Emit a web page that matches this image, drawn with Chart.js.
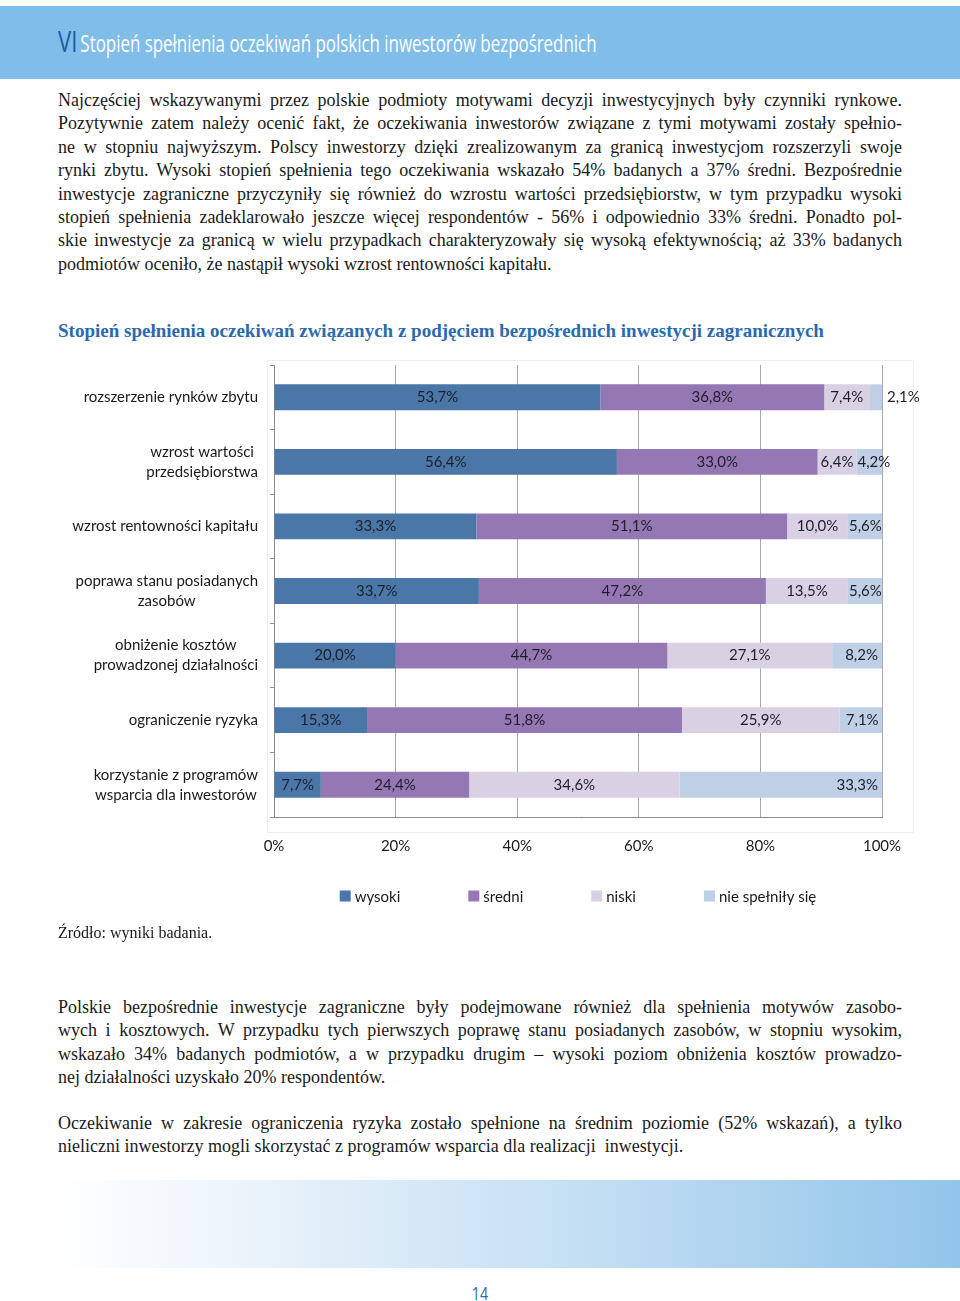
<!DOCTYPE html>
<html lang="pl">
<head>
<meta charset="utf-8">
<script src="https://cdn.jsdelivr.net/npm/chart.js@4.4.1/dist/chart.umd.min.js"></script>
<style>
  html, body { margin: 0; padding: 0; background: #fff; }
  #page { position: relative; width: 960px; height: 1301px; overflow: hidden; background: #fff; }
  .header { position: absolute; left: 0; top: 6px; width: 960px; height: 73px; background: #80bde9; }
  .header .t { position: absolute; left: 58px; top: 14px; white-space: nowrap; transform: scaleX(0.735); transform-origin: left center; font-family: "Open Sans", sans-serif; }
  .header .vi { color: #1d5ca9; font-size: 30px; font-weight: 400; }
  .header .rest { color: #ffffff; font-size: 23px; }
  .txt { position: absolute; left: 58px; width: 844px; font-family: "Liberation Serif", serif; font-size: 18px; line-height: 23.4px; color: #1a1a1a; }
  .txt div { text-align: justify; text-align-last: justify; }
  .txt div.last { text-align-last: left; }
  .ctitle { position: absolute; left: 58px; top: 320px; font-family: "Liberation Serif", serif; font-weight: bold; font-size: 19px; color: #2b6aae; white-space: nowrap; }
  .box { position: absolute; left: 267px; top: 360px; width: 645px; height: 471px; border: 1px solid #efefef; }
  #wrap { position: absolute; left: 40px; top: 355px; width: 890px; height: 570px; }
  .src { position: absolute; left: 58px; top: 924px; font-family: "Liberation Serif", serif; font-size: 16px; color: #1a1a1a; }
  .foot { position: absolute; left: 0; top: 1180px; width: 960px; height: 88px; background: linear-gradient(to right, #ffffff 6%, #e6f1fa 30%, #c2def3 62%, #92c5ea 100%); }
  .pnum { position: absolute; left: 0; width: 960px; top: 1280px; text-align: center; font-family: "Open Sans", sans-serif; font-size: 19px; color: #2b6aae; transform: scaleX(0.75); }
</style>
</head>
<body>
<div id="page">
  <div class="header"><div class="t"><span class="vi">VI</span> <span class="rest">Stopień spełnienia oczekiwań polskich inwestorów bezpośrednich</span></div></div>

  <div class="txt" style="top: 89px;">
    <div>Najczęściej wskazywanymi przez polskie podmioty motywami decyzji inwestycyjnych były czynniki rynkowe.</div>
    <div>Pozytywnie zatem należy ocenić fakt, że oczekiwania inwestorów związane z tymi motywami zostały spełnio-</div>
    <div>ne w stopniu najwyższym. Polscy inwestorzy dzięki zrealizowanym za granicą inwestycjom rozszerzyli swoje</div>
    <div>rynki zbytu. Wysoki stopień spełnienia tego oczekiwania wskazało 54% badanych a 37% średni. Bezpośrednie</div>
    <div>inwestycje zagraniczne przyczyniły się również do wzrostu wartości przedsiębiorstw, w tym przypadku wysoki</div>
    <div>stopień spełnienia zadeklarowało jeszcze więcej respondentów - 56% i odpowiednio 33% średni. Ponadto pol-</div>
    <div>skie inwestycje za granicą w wielu przypadkach charakteryzowały się wysoką efektywnością; aż 33% badanych</div>
    <div class="last">podmiotów oceniło, że nastąpił wysoki wzrost rentowności kapitału.</div>
  </div>

  <div class="ctitle">Stopień spełnienia oczekiwań związanych z podjęciem bezpośrednich inwestycji zagranicznych</div>

  <div class="box"></div>
  <div id="wrap"><canvas id="chart"></canvas></div>

  <div class="src">Źródło: wyniki badania.</div>

  <div class="txt" style="top: 996px;">
    <div>Polskie bezpośrednie inwestycje zagraniczne były podejmowane również dla spełnienia motywów zasobo-</div>
    <div>wych i kosztowych. W przypadku tych pierwszych poprawę stanu posiadanych zasobów, w stopniu wysokim,</div>
    <div>wskazało 34% badanych podmiotów, a w przypadku drugim – wysoki poziom obniżenia kosztów prowadzo-</div>
    <div class="last">nej działalności uzyskało 20% respondentów.</div>
  </div>

  <div class="txt" style="top: 1112px;">
    <div>Oczekiwanie w zakresie ograniczenia ryzyka zostało spełnione na średnim poziomie (52% wskazań), a tylko</div>
    <div class="last">nieliczni inwestorzy mogli skorzystać z programów wsparcia dla realizacji&nbsp; inwestycji.</div>
  </div>

  <div class="foot"></div>
  <div class="pnum">14</div>
</div>

<script>
// categories (multi-line labels as arrays)
const categories = [
  ['rozszerzenie rynków zbytu'],
  ['wzrost wartości', 'przedsiębiorstwa'],
  ['wzrost rentowności kapitału'],
  ['poprawa stanu posiadanych', 'zasobów'],
  ['obniżenie kosztów', 'prowadzonej działalności'],
  ['ograniczenie ryzyka'],
  ['korzystanie z programów', 'wsparcia dla inwestorów'],
];

// series values, %
const wysoki = [53.7, 56.4, 33.3, 33.7, 20.0, 15.3, 7.7];
const sredni = [36.8, 33.0, 51.1, 47.2, 44.7, 51.8, 24.4];
const niski = [7.4, 6.4, 10.0, 13.5, 27.1, 25.9, 34.6];
const nieSpelnily = [2.1, 4.2, 5.6, 5.6, 8.2, 7.1, 33.3];

const xTicks = [0, 20, 40, 60, 80, 100];

const FONT = 'Lato, "Open Sans", sans-serif';
const fmt = v => v.toFixed(1).replace('.', ',') + '%';

// value labels on each segment
const segmentLabels = {
  id: 'segmentLabels',
  afterDatasetsDraw(chart) {
    const ctx = chart.ctx;
    const last = chart.data.datasets.length - 1;
    ctx.save();
    ctx.font = '15px ' + FONT;
    ctx.fillStyle = '#1e1e2a';
    ctx.textBaseline = 'middle';
    chart.data.datasets.forEach((ds, di) => {
      chart.getDatasetMeta(di).data.forEach((bar, i) => {
        const { x, base, y } = bar.getProps(['x', 'base', 'y'], true);
        const txt = fmt(ds.data[i]);
        const tw = ctx.measureText(txt).width;
        const w = x - base;
        if (w < 18) {
          ctx.textAlign = 'left';
          ctx.fillText(txt, x + 5, y);
          return;
        }
        let cx = (x + base) / 2;
        if (di === last) {
          // narrow last segment: start the text near its left edge
          cx = w < tw + 4 ? base + tw / 2 + 1 : Math.max(cx, x - tw / 2 - 4);
        }
        ctx.textAlign = 'center';
        ctx.fillText(txt, cx, y);
      });
    });
    ctx.restore();
  }
};

// category names: block right aligned, lines centred inside it
const categoryLabels = {
  id: 'categoryLabels',
  afterDraw(chart) {
    const ctx = chart.ctx;
    const yScale = chart.scales.y;
    const right = chart.chartArea.left - 16;
    ctx.save();
    ctx.font = '15px ' + FONT;
    ctx.fillStyle = '#1a1a1a';
    ctx.textBaseline = 'middle';
    ctx.textAlign = 'center';
    chart.data.labels.forEach((lines, i) => {
      const yc = yScale.getPixelForValue(i);
      const maxW = Math.max(...lines.map(l => ctx.measureText(l).width));
      const cx = right - maxW / 2;
      const lh = 20;
      lines.forEach((l, k) => {
        ctx.fillText(l, cx, yc + (k - (lines.length - 1) / 2) * lh);
      });
    });
    ctx.restore();
  }
};

// legend under the axis
const bottomLegend = {
  id: 'bottomLegend',
  afterDraw(chart) {
    const ctx = chart.ctx;
    const dsets = chart.data.datasets;
    const box = 11, gapText = 4, gapItem = 68;
    const y = 541;
    ctx.save();
    ctx.font = '15px ' + FONT;
    ctx.textBaseline = 'middle';
    ctx.textAlign = 'left';
    const widths = dsets.map(d => box + gapText + ctx.measureText(d.label).width);
    const total = widths.reduce((a, b) => a + b, 0) + gapItem * (dsets.length - 1);
    let x = (chart.chartArea.left + chart.chartArea.right) / 2 - total / 2;
    dsets.forEach((d, i) => {
      ctx.fillStyle = d.backgroundColor;
      ctx.fillRect(x, y - box / 2, box, box);
      ctx.fillStyle = '#1a1a1a';
      ctx.fillText(d.label, x + box + gapText, y + 1);
      x += widths[i] + gapItem;
    });
    ctx.restore();
  }
};

new Chart(document.getElementById('chart').getContext('2d'), {
  type: 'bar',
  data: {
    labels: categories,
    datasets: [
      { label: 'wysoki', data: wysoki, backgroundColor: '#4a77a8' },
      { label: 'średni', data: sredni, backgroundColor: '#9578b3' },
      { label: 'niski', data: niski, backgroundColor: '#d9d0e4' },
      { label: 'nie spełniły się', data: nieSpelnily, backgroundColor: '#bfcfe5' },
    ],
  },
  options: {
    indexAxis: 'y',
    responsive: true,
    maintainAspectRatio: false,
    animation: false,
    layout: { padding: { top: 10, right: 48, left: 0, bottom: 0 } },
    datasets: { bar: { barPercentage: 0.4, categoryPercentage: 1, borderWidth: 0 } },
    scales: {
      x: {
        stacked: true,
        min: 0,
        max: 100,
        afterBuildTicks: s => { s.ticks = xTicks.map(v => ({ value: v })); },
        afterFit: s => { s.height = 108; },
        ticks: { callback: v => v + '%', padding: 20, color: '#1a1a1a', font: { family: FONT, size: 15 } },
        grid: { color: '#a8a8a8', drawTicks: false },
        border: { color: '#8c8c8c' },
      },
      y: {
        stacked: true,
        afterFit: s => { s.width = 234; },
        ticks: { display: false },
        grid: { drawOnChartArea: false, drawTicks: true, tickLength: 4, color: '#8c8c8c' },
        border: { color: '#8c8c8c' },
      },
    },
    plugins: { legend: { display: false }, tooltip: { enabled: false } },
  },
  plugins: [segmentLabels, categoryLabels, bottomLegend],
});
</script>
</body>
</html>
